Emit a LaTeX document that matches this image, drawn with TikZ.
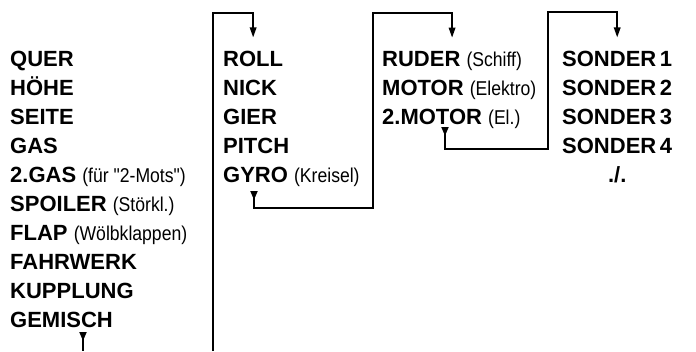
\documentclass[tikz,border=0pt]{standalone}
\usepackage{fontspec}
\setmainfont{Liberation Sans}
\newfontfamily\itemfont{Liberation Sans Bold}
\newfontfamily\notefont{Liberation Sans}[FakeStretch=0.88]
\usetikzlibrary{arrows.meta,positioning,calc}

\newcommand{\nt}[1]{{\notefont\fontsize{20}{20}\selectfont #1}}

\begin{document}
\begin{tikzpicture}[x=1pt, y=-1pt,
    item/.style={anchor=base west, inner sep=0pt, font=\itemfont\fontsize{22}{29}\selectfont},
    link/.style={draw, line width=1.7pt, -{Triangle[length=10pt,width=6.5pt]}},
    chain/.style={draw, line width=1.7pt, {Triangle[reversed,length=9pt,width=7pt]}-{Triangle[length=10pt,width=6.5pt]}},
    tailmark/.style={draw, line width=1.7pt, {Triangle[reversed,length=9pt,width=7pt]}-}
]
\useasboundingbox (0,0) rectangle (696,351);

% first list
\node[item] (quer) at (10,66) {QUER};
\node[item] (hoehe) at (10,95) {HÖHE};
\node[item] (seite) at (10,124) {SEITE};
\node[item] (gas) at (10,153) {GAS};
\node[item] (gastwo) at (10,182) {2.GAS \nt{(für "2-Mots")}};
\node[item] (spoiler) at (10,211) {SPOILER \nt{(Störkl.)}};
\node[item] (flap) at (10,240) {FLAP \nt{(Wölbklappen)}};
\node[item] (fahrwerk) at (10,269) {FAHRWERK};
\node[item] (kupplung) at (10,298) {KUPPLUNG};
\node[item] (gemisch) at (10,327) {GEMISCH};

% second list
\node[item] (roll) at (223,66) {ROLL};
\node[item] (nick) at (223,95) {NICK};
\node[item] (gier) at (223,124) {GIER};
\node[item] (pitch) at (223,153) {PITCH};
\node[item] (gyro) at (223,182) {GYRO \nt{(Kreisel)}};

% third list
\node[item] (ruder) at (382,66) {RUDER \nt{(Schiff)}};
\node[item] (motor) at (382,95) {MOTOR \nt{(Elektro)}};
\node[item] (motortwo) at (382,124) {2.MOTOR \nt{(El.)}};

% fourth list
\node[item] (sonderA) at (562,66) {SONDER\,1};
\node[item] (sonderB) at (562,95) {SONDER\,2};
\node[item] (sonderC) at (562,124) {SONDER\,3};
\node[item] (sonderD) at (562,153) {SONDER\,4};
\node[item, anchor=base] (weiter) at (sonderA.base |- 0,182) {./.};

% connectors
\coordinate (outA) at (83,332);
\coordinate (outAend) at (83,351);
\coordinate (inA) at (213,351);
\coordinate (outB) at (254,191);
\coordinate (outC) at (445,127);

\draw[tailmark] (outA) -- (outAend);
\draw[link] (inA) -- (213,13) -| ([yshift=13pt]roll.north);
\draw[chain] (outB) -- ++(0,17) -| (373,13) -| ([yshift=13pt]ruder.north);
\draw[chain] (outC) -- ++(0,22) -| (548,12) -| ([yshift=13pt]sonderA.north);

\end{tikzpicture}
\end{document}
